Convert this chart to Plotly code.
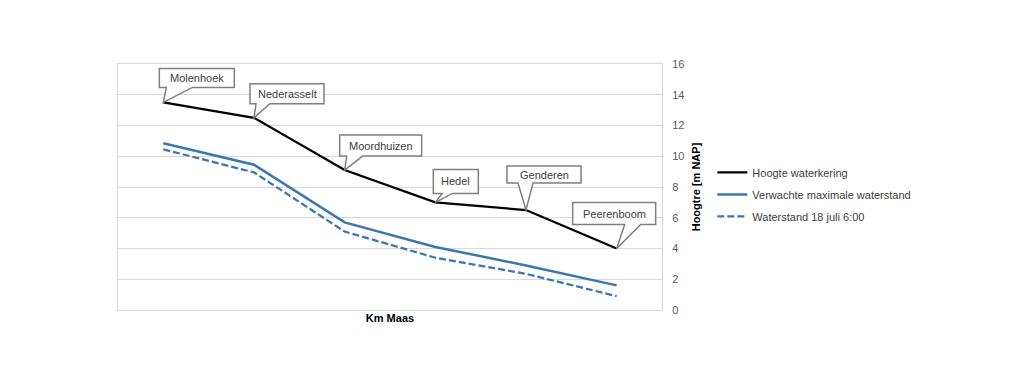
import plotly.graph_objects as go

# ---- data ----
places = ["Molenhoek", "Nederasselt", "Moordhuizen", "Hedel", "Genderen", "Peerenboom"]
hoogte_waterkering = [13.5, 12.5, 9.1, 7.0, 6.5, 4.0]
verwachte_max = [10.85, 9.45, 5.7, 4.1, 2.9, 1.6]
waterstand_18juli = [10.45, 8.95, 5.1, 3.4, 2.35, 0.9]
y_ticks = [0, 2, 4, 6, 8, 10, 12, 14, 16]

# callout geometry (pixel offsets relative to the data point: box left, box right,
# box bottom (up), box top (up), wedge base left, wedge base right)
callout_geom = [
    (-4, 71, 15, 34, 3, 29),
    (-4, 70, 14, 34, 2, 16),
    (-5, 77, 14, 35, 2, 18),
    (-2, 43, 9, 33, 7, 17),
    (-19, 55, 27, 44, -8, 7),
    (-44, 39, 24, 46, 8, 24),
]

idx = list(range(len(places)))
BLUE = "#3a76b0"
FONT = "Liberation Sans"

fig = go.Figure()
fig.add_trace(go.Scatter(x=idx, y=hoogte_waterkering, mode="lines", name="Hoogte waterkering",
                         line=dict(color="black", width=2.25), legendgroup="a"))
fig.add_trace(go.Scatter(x=idx, y=verwachte_max, mode="lines", name="Verwachte maximale waterstand",
                         line=dict(color=BLUE, width=2.5), legendgroup="b"))
fig.add_trace(go.Scatter(x=idx, y=waterstand_18juli, mode="lines", name="Waterstand 18 juli 6:00",
                         line=dict(color=BLUE, width=2.25, dash="7px,3px"), legendgroup="c"))

for i, (name, val, g) in enumerate(zip(places, hoogte_waterkering, callout_geom)):
    x0, x1, yb, yt, w0, w1 = g
    path = (f"M {x0},{yb} L {w0},{yb} L 0,0 L {w1},{yb} L {x1},{yb} "
            f"L {x1},{yt} L {x0},{yt} Z")
    fig.add_shape(type="path", xref="x", yref="y", xsizemode="pixel", ysizemode="pixel",
                  xanchor=i, yanchor=val, path=path,
                  line=dict(color="#7f7f7f", width=1.5), fillcolor="white", layer="above")
    fig.add_annotation(x=i, y=val, xref="x", yref="y", text=name, showarrow=False,
                       xshift=(x0 + x1) / 2, yshift=(yb + yt) / 2,
                       font=dict(family=FONT, size=11, color="#404040"))

fig.update_layout(
    width=1024, height=391,
    margin=dict(l=110, r=370, t=56, b=89),
    paper_bgcolor="white", plot_bgcolor="white",
    font=dict(family=FONT, size=11, color="#595959"),
    showlegend=True,
    legend=dict(x=1.0925, y=0.47, xanchor="left", yanchor="middle",
                font=dict(family=FONT, size=11, color="#404040"),
                itemwidth=30, tracegroupgap=3, traceorder="grouped",
                bgcolor="rgba(0,0,0,0)"),
)
fig.update_xaxes(range=[-0.5, len(places) - 0.5], showticklabels=False, showgrid=False,
                 zeroline=False, showline=True, mirror=True, linecolor="#d9d9d9", linewidth=1,
                 title=dict(text="Km Maas", standoff=4,
                            font=dict(family=FONT, size=11, color="black", weight="bold")))
fig.update_yaxes(range=[0, 16], tickvals=y_ticks, side="right", showgrid=True,
                 gridcolor="#d9d9d9", gridwidth=1, zeroline=False, showline=True, mirror=True,
                 linecolor="#d9d9d9", linewidth=1, ticks="", ticklabelstandoff=7,
                 tickfont=dict(family=FONT, size=11, color="#595959"),
                 title=dict(text="Hoogtre [m NAP]", standoff=8,
                            font=dict(family=FONT, size=11, color="black", weight="bold")))

fig.write_html("out.html")
